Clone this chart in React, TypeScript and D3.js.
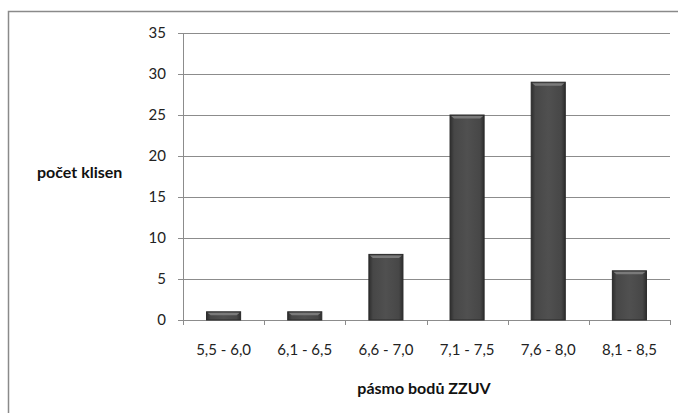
import React from "react";
import * as d3 from "d3";

const categories = ["5,5 - 6,0", "6,1 - 6,5", "6,6 - 7,0", "7,1 - 7,5", "7,6 - 8,0", "8,1 - 8,5"];
const counts = [1, 1, 8, 25, 29, 6];
const yTicks = [0, 5, 10, 15, 20, 25, 30, 35];
const yTitle = "počet klisen";
const xTitle = "pásmo bodů ZZUV";

export default function App() {
  const W = 678, H = 413;
  const left = 183, right = 670, top = 33, bottom = 320;
  const x = d3.scaleBand<string>().domain(categories).range([left, right]).paddingInner(0.58).paddingOuter(0.29);
  const xTickScale = d3.scaleBand<string>().domain(categories).range([left, right]);
  const y = d3.scaleLinear().domain([0, 35]).range([bottom, top]);
  const font = "Lato, 'Open Sans', sans-serif";
  return (
    <svg width={W} height={H} style={{ position: "absolute", left: 0, top: 0 }}>
      <defs>
        <linearGradient id="barg" x1="0" x2="1" y1="0" y2="0">
          <stop offset="0" stopColor="#2e2e2e" />
          <stop offset="0.12" stopColor="#474747" />
          <stop offset="0.5" stopColor="#505050" />
          <stop offset="0.88" stopColor="#474747" />
          <stop offset="1" stopColor="#2e2e2e" />
        </linearGradient>
      </defs>
      <rect x={0} y={0} width={W} height={H} fill="#fff" />
      <path d={`M8.5,${H} V11.5 H${W}`} fill="none" stroke="#8a8a8a" strokeWidth={1.5} />
      {yTicks.map((t) => (
        <g key={t}>
          <line x1={left} x2={right} y1={Math.round(y(t)) + 0.5} y2={Math.round(y(t)) + 0.5} stroke="#8c8c8c" strokeWidth={1} />
          <line x1={left - 5} x2={left} y1={Math.round(y(t)) + 0.5} y2={Math.round(y(t)) + 0.5} stroke="#8c8c8c" />
          <text x={left - 17} y={y(t)} dy="0.35em" textAnchor="end" fontFamily={font} fontSize={15} fill="#222">{t}</text>
        </g>
      ))}
      <line x1={left + 0.5} x2={left + 0.5} y1={top} y2={bottom + 5} stroke="#8c8c8c" />
      {categories.map((c, i) => (
        <line key={"t" + i} x1={Math.round(xTickScale(c)! + xTickScale.bandwidth()) + 0.5} x2={Math.round(xTickScale(c)! + xTickScale.bandwidth()) + 0.5} y1={bottom} y2={bottom + 5} stroke="#8c8c8c" />
      ))}
      {categories.map((c, i) => {
        const bx = x(c)!, bw = x.bandwidth();
        const by = y(counts[i]), bh = bottom - by;
        return (
          <g key={c}>
            <rect x={bx} y={by} width={bw} height={bh} fill="url(#barg)" stroke="#2a2a2a" strokeWidth={1} />
            <path d={`M${bx + 1},${by + 1} H${bx + bw - 1} L${bx + bw - 4},${by + 3.5} H${bx + 4} Z`} fill="#7a7a7a" />
          </g>
        );
      })}
      {categories.map((c) => (
        <text key={"l" + c} x={xTickScale(c)! + xTickScale.bandwidth() / 2} y={350} dy="0.35em" textAnchor="middle" fontFamily={font} fontSize={15} fill="#222">{c}</text>
      ))}
      <text x={424} y={388} dy="0.35em" textAnchor="middle" fontFamily={font} fontSize={16} fontWeight="bold" fill="#111">{xTitle}</text>
      <text x={37} y={172} dy="0.35em" textAnchor="start" fontFamily={font} fontSize={16} fontWeight="bold" fill="#111">{yTitle}</text>
    </svg>
  );
}
